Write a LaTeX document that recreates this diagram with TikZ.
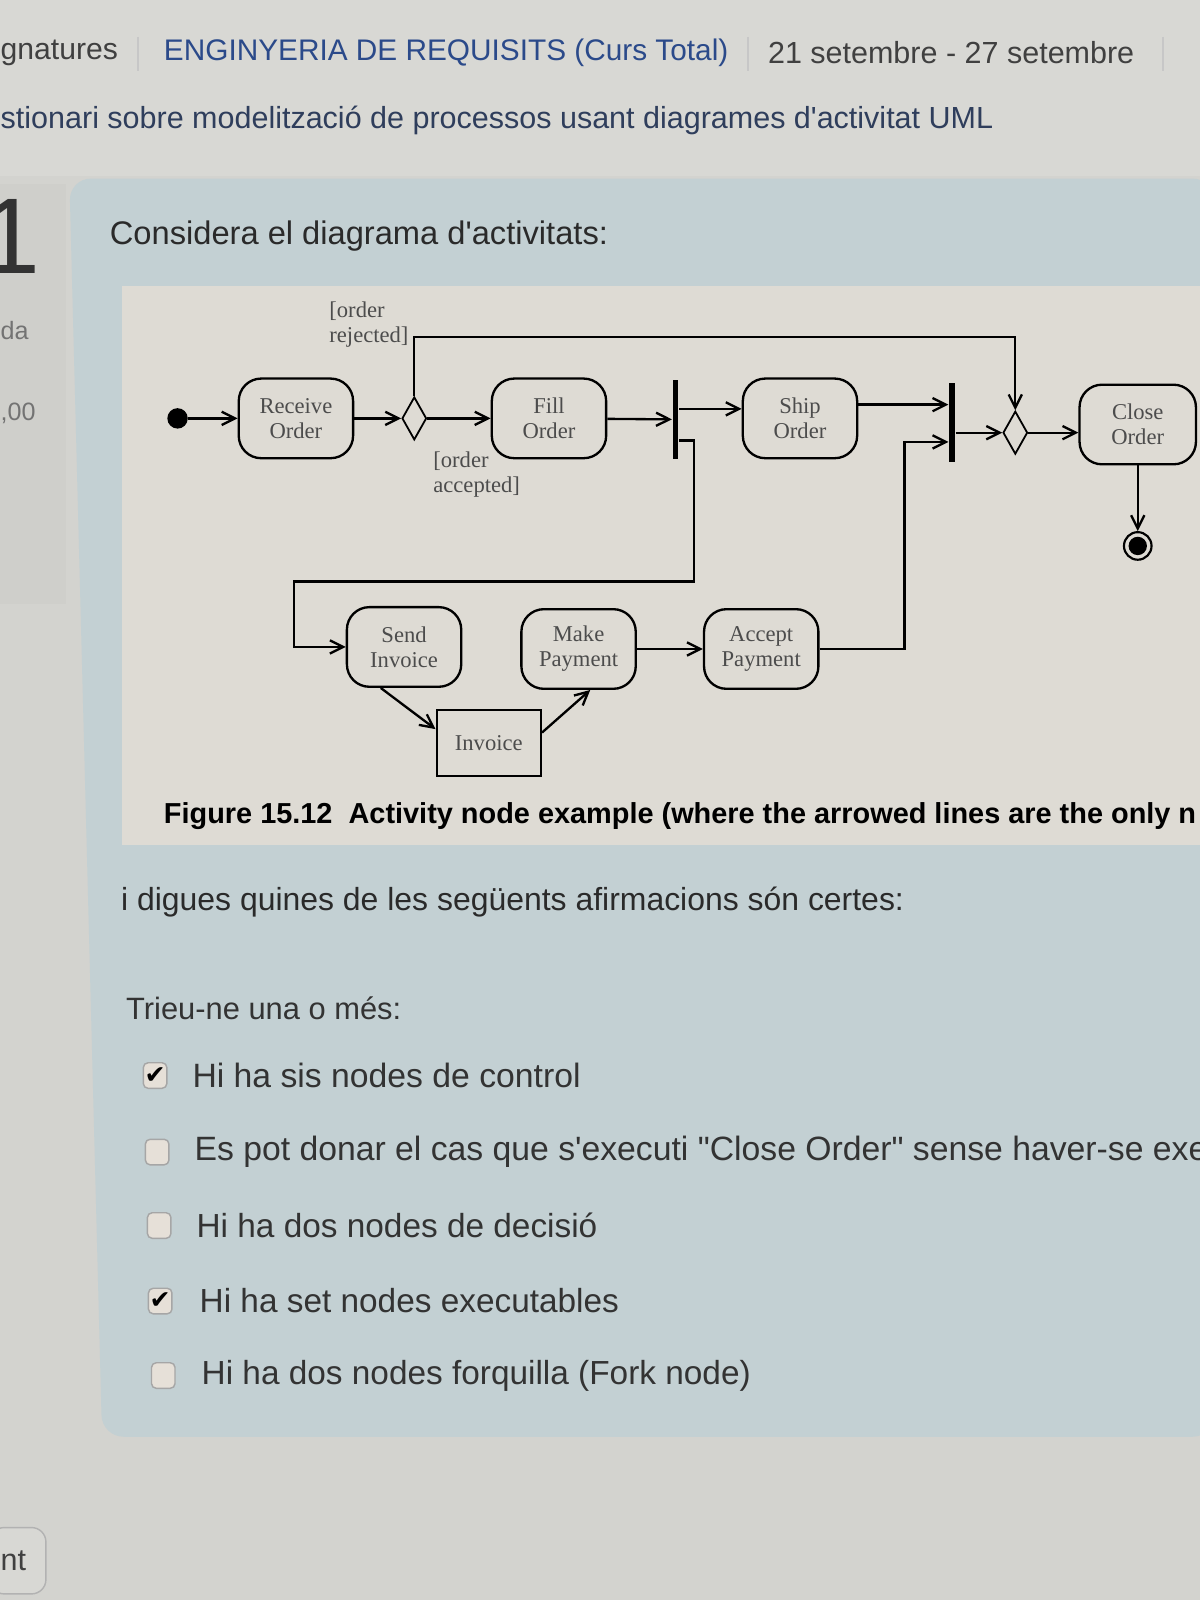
\documentclass[tikz,border=0pt]{standalone}
\usepackage{fontspec}
\setmainfont{Liberation Serif}
\newfontfamily\uifont{Liberation Sans}
\newfontfamily\symfont{DejaVu Sans}
\usetikzlibrary{arrows.meta,calc,positioning,shapes.geometric}
\definecolor{pagegray}{HTML}{D3D3CF}
\definecolor{topgray}{HTML}{D8D8D4}
\definecolor{leftgray}{HTML}{CFCFCB}
\definecolor{boxblue}{HTML}{C3D0D3}
\definecolor{figbg}{HTML}{DEDBD4}
\definecolor{linkblue}{HTML}{2B4A8A}
\definecolor{navy}{HTML}{2F3E5C}
\definecolor{ink}{HTML}{2A2A2A}
\definecolor{tickbox}{HTML}{E6E0D8}
\def\ui(#1){\uifont\fontsize{#1}{#1}\selectfont}
\tikzset{
  act/.style={draw, rounded corners=2.2mm, minimum width=1.12cm, minimum height=0.78cm,
    align=center, inner sep=1pt, font=\fontsize{6.3}{7}\selectfont, text=black!70, line width=0.65pt},
  obj/.style={draw, minimum width=1.02cm, minimum height=0.65cm,
    font=\fontsize{6.3}{7}\selectfont, text=black!70, line width=0.65pt},
  bar/.style={fill=black, minimum width=1.6pt, minimum height=0.78cm, inner sep=0pt},
  dec/.style={draw, diamond, minimum width=0.24cm, minimum height=0.42cm, inner sep=0pt, line width=0.5pt},
  flow/.style={-{Straight Barb[length=1.3mm,width=1.3mm]}, line width=0.65pt},
  guard/.style={font=\fontsize{6.3}{6.9}\selectfont, text=black!70, align=left, inner sep=0pt},
  chk/.style={draw=black!35, fill=tickbox, rounded corners=1.3pt, minimum width=0.23cm,
    minimum height=0.25cm, inner sep=0pt},
  ui/.style={anchor=west, inner sep=0pt, text=ink}
}

\begin{document}
\begin{tikzpicture}[x=0.01cm, y=-0.01cm]
\useasboundingbox (0,0) rectangle (1176,1568);
% page
\fill[pagegray] (0,0) rectangle (1176,1568);
\fill[topgray] (0,0) rectangle (1176,172);
\fill[leftgray] (0,180) rectangle (65,592);
\fill[boxblue, rounded corners=6] (68,175) -- (1190,175) -- (1190,1408) -- (100,1408) -- cycle;
\fill[figbg] (120,280) rectangle (1176,828);
\draw[fill=topgray, draw=black!30, rounded corners=4] (-10,1497) rectangle (45,1562);

\node[ui, text=black!75] (crumb1) at (0,52) {\ui(8.4)gnatures};
\node[ui, text=linkblue] (crumb2) at (160,52) {\ui(8.3)ENGINYERIA DE REQUISITS (Curs Total)};
\node[ui, text=black!75] (crumb3) at (752,52) {\ui(8.5)21 setembre - 27 setembre};
\draw[black!22, line width=0.6pt] (135,36) -- (135,70);
\draw[black!22, line width=0.6pt] (733,36) -- (733,70);
\draw[black!22, line width=0.6pt] (1140,36) -- (1140,70);
\node[ui, text=navy] (quiz) at (0,118) {\ui(8.5)stionari sobre modelització de processos usant diagrames d'activitat UML};

\node[ui, text=black!80] (qnum) at (-20,232) {\ui(30)1};
\node[ui, text=black!55] (qstate) at (0,324) {\ui(7)da};
\node[ui, text=black!55] (qmark) at (0,405) {\ui(7),00};
\node[ui] (intro) at (107,231) {\ui(9.1)Considera el diagrama d'activitats:};

% activity diagram
\node (init) at (174,410) [circle, fill=black, minimum size=0.2cm, inner sep=0pt] {};
\node (recv) at (290,410) [act] {Receive\\Order};
\node (dec1) at (406,410) [dec] {};
\node (fill) at (538,410) [act] {Fill\\Order};
\node (fork1) at (662,411) [bar] {};
\node (ship) at (784,410) [act] {Ship\\Order};
\node (join) at (933,414) [bar] {};
\node (dec2) at (995,424) [dec] {};
\node (close) at (1115,416) [act, minimum width=1.14cm] {Close\\Order};
\node (final) at (1115,535) [circle, draw, line width=0.6pt, minimum size=0.27cm, inner sep=0pt] {};
\fill (final) circle (0.09cm);
\node (send) at (396,634) [act] {Send\\Invoice};
\node (make) at (567,636) [act] {Make\\Payment};
\node (accept) at (746,636) [act] {Accept\\Payment};
\node (inv) at (479,728) [obj] {Invoice};
\node[guard, anchor=south east] (rej) at (401,341) {[order\\rejected]};
\node[guard, anchor=north west] (acc) at (424,442) {[order\\accepted]};

\coordinate (top) at (0,330);
\coordinate (f1a) at ($(fork1.north east)!0.37!(fork1.south east)$);
\coordinate (f1b) at ($(fork1.north east)!0.76!(fork1.south east)$);
\coordinate (j1a) at ($(join.north west)!0.28!(join.south west)$);
\coordinate (j1b) at ($(join.north west)!0.74!(join.south west)$);
\coordinate (c1) at (680,570);
\coordinate (c2) at (288,570);

\draw[flow] (init)--(recv);
\draw[flow] (recv)--(dec1);
\draw[flow] (dec1)--(fill);
\draw[flow] (dec1.north) -- (dec1.north |- top) -| (dec2.north);
\draw[flow] (fill)--(fork1);
\draw[flow] (f1a) -- (f1a -| ship.west);
\draw[flow] (f1b) -| (c1) -- (c2) |- (send.west);
\draw[flow] (ship.east |- j1a) -- (j1a);
\draw[flow] (accept.east) -| ($(j1b)+(-43,0)$) -- (j1b);
\draw[flow] (join.east |- dec2) -- (dec2);
\draw[flow] (dec2) -- (dec2 -| close.west);
\draw[flow] (close)--(final);
\draw[flow] (make)--(accept);
\draw[flow] ($(send.south)!0.4!(send.south west)$) -- ($(inv.north west)!0.3!(inv.south west)$);
\draw[flow] ($(inv.north east)!0.35!(inv.south east)$) -- ($(make.south)!0.2!(make.south east)$);

\node[ui, text=black] (caption) at (160,800) {\uifont\bfseries\fontsize{8.05}{8.2}\selectfont Figure 15.12\ \ Activity node example (where the arrowed lines are the only n};

% question
\node[ui] (ask) at (118,884) {\ui(8.9)i digues quines de les següents afirmacions són certes:};
\node[ui, text=black!80] (pick) at (123,988) {\ui(8.6)Trieu-ne una o més:};

\node[chk] (b1) at (152,1054) {\symfont\fontsize{7}{7}\selectfont ✔};
\node[chk] (b2) at (154,1129) {};
\node[chk] (b3) at (156,1201) {};
\node[chk] (b4) at (157,1275) {\symfont\fontsize{7}{7}\selectfont ✔};
\node[chk] (b5) at (160,1348) {};
\node[ui, text=black!80] (o1) at (188,1054) {\ui(9.4)Hi ha sis nodes de control};
\node[ui, text=black!80] (o2) at (190,1129) {\ui(9.4)Es pot donar el cas que s'executi "Close Order" sense haver-se exe};
\node[ui, text=black!80] (o3) at (192,1201) {\ui(9.3)Hi ha dos nodes de decisió};
\node[ui, text=black!80] (o4) at (195,1275) {\ui(9.3)Hi ha set nodes executables};
\node[ui, text=black!80] (o5) at (197,1348) {\ui(9.3)Hi ha dos nodes forquilla (Fork node)};

\node[ui, text=black!75] (btn) at (0,1530) {\ui(8.5)nt};
\end{tikzpicture}
\end{document}
